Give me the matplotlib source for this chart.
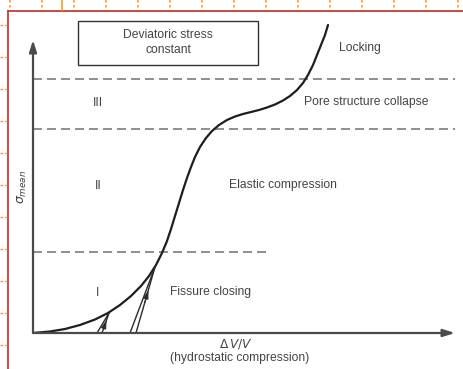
import matplotlib
matplotlib.use("Agg")
import matplotlib.pyplot as plt
from matplotlib.patches import Rectangle
from matplotlib.lines import Line2D

# ---- data (arbitrary units: x = dV/V 0..430, y = sigma_mean 0..322) ----
curve_x = [0, 17, 32, 47, 62, 75, 87, 98, 108, 116, 123, 129, 134, 138, 142, 146, 150, 154,
           158, 162, 167, 173, 179, 186, 194, 202, 210, 218, 226, 234, 242, 250, 257, 264,
           270, 275, 280, 284, 288, 292, 295]
curve_y = [0, 1.5, 4, 8, 13.5, 20, 28, 37, 47, 57, 68, 80, 92, 104, 117, 130, 143, 155,
           166, 176, 186, 195, 202, 208, 213, 216.5, 219, 221, 223, 225.5, 228.5, 232.5, 237,
           243, 250, 258, 268, 278, 288, 298, 308]

# unloading / reloading loops: (foot_unload_x, foot_reload_x, tip_x, tip_y)
loops = [(64, 69, 76, 20), (97, 103, 122, 66)]

boundary_levels = [254, 204, 81]
boundary_ends = [422, 422, 236]

region_numerals = ["III", "II", "I"]
region_numeral_y = [230, 147, 40]
region_names = ["Locking", "Pore structure collapse", "Elastic compression", "Fissure closing"]
region_name_pos = [(327, 285), (333, 231), (250, 148), (178, 41)]

box_text = ["Deviatoric stress", "constant"]

# ---- figure ----
W, H = 463, 369
fig = plt.figure(figsize=(W / 100, H / 100), dpi=100)
ax = fig.add_axes([33 / W, 36 / H, 430 / W, 322 / H])
ax.set_xlim(0, 430)
ax.set_ylim(0, 322)
ax.axis("off")

txt = dict(family=["Liberation Sans", "DejaVu Sans"], fontsize=8.7, color="#444444")

# axes with arrows
axc = "#4a4a4a"
ax.annotate("", xy=(0, 293), xytext=(0, 0),
            arrowprops=dict(arrowstyle="-|>,head_length=0.7,head_width=0.22", color=axc, lw=1.6,
                            shrinkA=0, shrinkB=0), annotation_clip=False)
ax.annotate("", xy=(422, 0), xytext=(0, 0),
            arrowprops=dict(arrowstyle="-|>,head_length=0.7,head_width=0.22", color=axc, lw=1.6,
                            shrinkA=0, shrinkB=0), annotation_clip=False)

# dashed boundaries
for lvl, end in zip(boundary_levels, boundary_ends):
    ax.plot([0, end], [lvl, lvl], color="#5a5a5a", lw=1.2, ls=(0, (5.4, 3.0)), alpha=0.8)

# main curve
ax.plot(curve_x, curve_y, color="#1e1e1e", lw=1.6, solid_capstyle="round",
        solid_joinstyle="round")

# loops
for fu, fr, tx, ty in loops:
    ax.plot([fu, tx], [0, ty], color="#2a2a2a", lw=1.0)
    ax.plot([fr, tx], [0, ty], color="#2a2a2a", lw=1.0)
    mx0 = fr + (tx - fr) * 0.45
    my0 = ty * 0.45
    mx1 = fr + (tx - fr) * 0.65
    my1 = ty * 0.65
    ax.annotate("", xy=(mx1, my1), xytext=(mx0, my0),
                arrowprops=dict(arrowstyle="-|>,head_length=0.5,head_width=0.15",
                                color="#2a2a2a", lw=0.8, shrinkA=0, shrinkB=0))

# box
ax.add_patch(Rectangle((45, 268), 180, 44, fill=False, ec="#333333", lw=1.0))
ax.text(135, 298, box_text[0], ha="center", va="center", **txt)
ax.text(135, 283, box_text[1], ha="center", va="center", **txt)

for s, y in zip(region_numerals, region_numeral_y):
    ax.text(65, y, s, ha="center", va="center", **txt)
for s, (x, y) in zip(region_names, region_name_pos):
    ax.text(x, y, s, ha="center", va="center", **txt)

# axis labels
ax.text(203, -11, r"$\Delta\,V/V$", ha="center", va="center", clip_on=False,
        fontsize=8.7, color="#444444")
ax.text(207, -25, "(hydrostatic compression)", ha="center", va="center", clip_on=False, **txt)
ax.text(-11, 146, r"$\sigma_{mean}$", ha="center", va="center", rotation=90, clip_on=False,
        fontsize=9, color="#444444")

# screenshot-editor frame artifacts (red border, orange ruler marks)
red = "#c43c3c"
fig.add_artist(Line2D([8 / W, 8 / W], [0, 1 - 11 / H], transform=fig.transFigure, color=red, lw=1.3))
fig.add_artist(Line2D([8 / W, 1], [1 - 11 / H, 1 - 11 / H], transform=fig.transFigure, color=red, lw=1.3))
orange = "#f5a020"
for xp in [10, 42, 74, 106, 138, 170, 202, 234, 266, 298, 330, 362, 394, 426, 458]:
    fig.add_artist(Line2D([xp / W, xp / W], [1, 1 - 10 / H], transform=fig.transFigure,
                          color=orange, lw=1.2, ls=(0, (1.5, 1.5))))
fig.add_artist(Line2D([62 / W, 62 / W], [1, 1 - 10 / H], transform=fig.transFigure, color=orange, lw=1.2))
for yp in [25, 57, 89, 121, 153, 185, 217, 249, 281, 313, 345]:
    fig.add_artist(Line2D([0, 6 / W], [1 - yp / H, 1 - yp / H], transform=fig.transFigure,
                          color=orange, lw=1.0, ls=(0, (2, 1))))

fig.savefig("out.png", dpi=100)
